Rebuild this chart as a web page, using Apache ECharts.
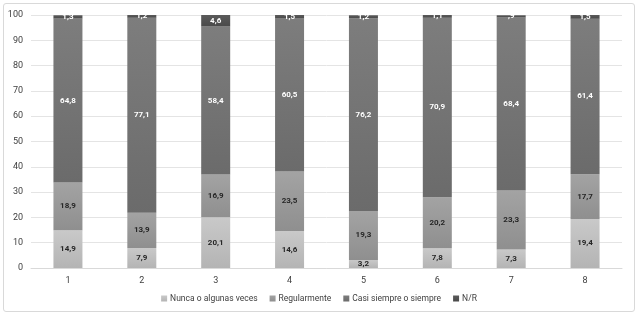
<!DOCTYPE html>
<html>
<head>
<meta charset="utf-8">
<script src="https://cdn.jsdelivr.net/npm/echarts@6/dist/echarts.min.js"></script>
<style>
html, body { margin: 0; padding: 0; background: #fff; }
#mychart { position: absolute; left: 3px; top: 3px; width: 632px; height: 309px; border: 1px solid #d9d9d9; border-radius: 3px; box-sizing: border-box; }
</style>
</head>
<body>
<div id="mychart"></div>
<script>
// categorias y valores (%)
var categories = ['1', '2', '3', '4', '5', '6', '7', '8'];
var nunca = [14.9, 7.9, 20.1, 14.6, 3.2, 7.8, 7.3, 19.4];
var regular = [18.9, 13.9, 16.9, 23.5, 19.3, 20.2, 23.3, 17.7];
var casi = [64.8, 77.1, 58.4, 60.5, 76.2, 70.9, 68.4, 61.4];
var nr = [1.3, 1.2, 4.6, 1.5, 1.2, 1.1, 0.9, 1.5];
var seriesNames = ['Nunca o algunas veces', 'Regularmente', 'Casi siempre o siempre', 'N/R'];
var yTicks = { min: 0, max: 100, interval: 10 };

var myChart = echarts.init(document.getElementById('mychart'));

// formato con coma decimal, como en el original (",9")
function fmt(p) {
    var s = p.value.toFixed(1).replace('.', ',');
    if (s.indexOf('0,') === 0) s = s.substring(1);
    return s;
}

function grad(top, bottom) {
    return new echarts.graphic.LinearGradient(0, 0, 0, 1, [
        { offset: 0, color: top },
        { offset: 1, color: bottom }
    ]);
}

function makeSeries(name, data, colTop, colBottom, labelColor) {
    return {
        name: name,
        type: 'bar',
        stack: 'total',
        barWidth: 29,
        data: data,
        itemStyle: { color: grad(colTop, colBottom) },
        label: {
            show: true,
            position: 'inside',
            formatter: fmt,
            color: labelColor,
            fontSize: 8,
            fontWeight: 'bold',
            fontFamily: 'Roboto'
        }
    };
}

myChart.setOption({
    animation: false,
    textStyle: { fontFamily: 'Roboto' },
    legend: {
        bottom: 3,
        left: 'center',
        itemWidth: 6,
        itemHeight: 6,
        itemGap: 12,
        icon: 'rect',
        textStyle: { fontSize: 8.5, color: '#404040', padding: [0, 0, 0, -2] },
        data: seriesNames
    },
    grid: {
        left: 27,
        right: 12,
        top: 11,
        bottom: 43
    },
    xAxis: {
        type: 'category',
        data: categories,
        axisTick: { show: false },
        axisLine: { lineStyle: { color: '#d9d9d9' } },
        axisLabel: { color: '#404040', fontSize: 9, margin: 8 }
    },
    yAxis: {
        type: 'value',
        min: yTicks.min,
        max: yTicks.max,
        interval: yTicks.interval,
        axisLabel: { color: '#404040', fontSize: 9, margin: 8 },
        splitLine: { lineStyle: { color: '#e4e4e4' } }
    },
    series: [
        makeSeries(seriesNames[0], nunca, '#c9c9c9', '#b4b4b4', '#262626'),
        makeSeries(seriesNames[1], regular, '#a3a3a3', '#8f8f8f', '#262626'),
        makeSeries(seriesNames[2], casi, '#7d7d7d', '#6b6b6b', '#ffffff'),
        makeSeries(seriesNames[3], nr, '#5a5a5a', '#4a4a4a', '#ffffff')
    ]
});
</script>
</body>
</html>
